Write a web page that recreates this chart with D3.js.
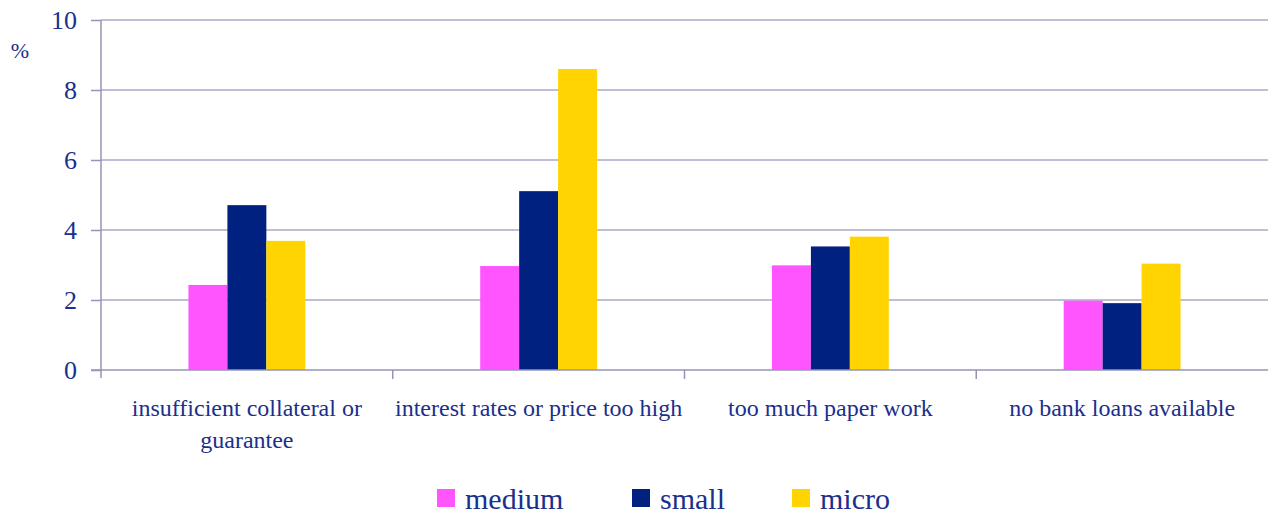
<!DOCTYPE html>
<html>
<head>
<meta charset="utf-8">
<script src="https://cdn.jsdelivr.net/npm/d3@7"></script>
<style>
  body { margin: 0; background: #fff; }
</style>
</head>
<body>
<div id="chart"></div>
<script>
// chart data
var categories = [
    ["insufficient collateral or", "guarantee"],
    ["interest rates or price too high"],
    ["too much paper work"],
    ["no bank loans available"]
];
var series_names = ["medium", "small", "micro"];
var series_colors = ["#ff55ff", "#00217f", "#ffd400"];
var medium_values = [2.43, 2.97, 2.99, 1.98];
var small_values = [4.71, 5.11, 3.53, 1.91];
var micro_values = [3.69, 8.6, 3.81, 3.04];
var y_ticks = [0, 2, 4, 6, 8, 10];

var FONT = "'Liberation Serif', 'Times New Roman', serif";
var TEXT_COLOR = "#1b2f8c";
var width = 1268, height = 516;
var plot = { left: 101, right: 1268, top: 20, bottom: 370 };

var svg = d3.select("#chart").append("svg")
    .attr("width", width)
    .attr("height", height);

var x = d3.scaleBand()
    .domain(d3.range(categories.length))
    .range([plot.left, plot.right]);

var barW = x.bandwidth() * 0.1335;
var x_inner = d3.scaleBand()
    .domain(series_names)
    .range([x.bandwidth() / 2 - barW * 1.5, x.bandwidth() / 2 + barW * 1.5]);

var y = d3.scaleLinear().domain([0, 10]).range([plot.bottom, plot.top]);

// gridlines
svg.append("g").selectAll("line")
    .data(y_ticks.filter(function (t) { return t > 0; }))
    .enter().append("line")
    .attr("x1", plot.left).attr("x2", plot.right)
    .attr("y1", function (d) { return y(d); })
    .attr("y2", function (d) { return y(d); })
    .attr("stroke", "#a9a9c6").attr("stroke-width", 1.5);

// y axis
var yAxis = d3.axisLeft(y).tickValues(y_ticks).tickSize(10).tickPadding(14);
var ya = svg.append("g")
    .attr("transform", "translate(" + plot.left + ",0)")
    .call(yAxis);
ya.select(".domain").attr("stroke", "#9494b8").attr("stroke-width", 1.5)
    .attr("d", "M0," + (plot.bottom + 8) + "V" + plot.top);
ya.selectAll(".tick line").attr("stroke", "#9494b8").attr("stroke-width", 1.5);
ya.selectAll(".tick text")
    .style("font-family", FONT)
    .style("font-size", "26px")
    .attr("dy", "0.34em")
    .attr("fill", TEXT_COLOR);

svg.append("text")
    .attr("x", 20).attr("y", 58)
    .attr("text-anchor", "middle")
    .style("font-family", FONT)
    .style("font-size", "22px")
    .attr("fill", TEXT_COLOR)
    .text("%");

// bars
var all_values = [medium_values, small_values, micro_values];
var groups = svg.append("g").selectAll("g")
    .data(categories)
    .enter().append("g")
    .attr("transform", function (d, i) { return "translate(" + x(i) + ",0)"; });

groups.selectAll("rect")
    .data(function (d, i) {
        return series_names.map(function (s, k) {
            return { name: s, value: all_values[k][i], color: series_colors[k] };
        });
    })
    .enter().append("rect")
    .attr("x", function (d) { return x_inner(d.name); })
    .attr("width", x_inner.bandwidth())
    .attr("y", function (d) { return y(d.value); })
    .attr("height", function (d) { return y(0) - y(d.value); })
    .attr("fill", function (d) { return d.color; });

// x axis line + category ticks
svg.append("line")
    .attr("x1", plot.left - 10).attr("x2", plot.right)
    .attr("y1", plot.bottom).attr("y2", plot.bottom)
    .attr("stroke", "#9494b8").attr("stroke-width", 1.5);
svg.append("g").selectAll("line")
    .data(d3.range(1, categories.length))
    .enter().append("line")
    .attr("x1", function (d) { return x(d); })
    .attr("x2", function (d) { return x(d); })
    .attr("y1", plot.bottom).attr("y2", plot.bottom + 9)
    .attr("stroke", "#9494b8").attr("stroke-width", 1.5);

// category labels
var labels = svg.append("g").selectAll("text")
    .data(categories)
    .enter().append("text")
    .attr("text-anchor", "middle")
    .attr("x", function (d, i) { return x(i) + x.bandwidth() / 2; })
    .attr("y", 416)
    .style("font-family", FONT)
    .style("font-size", "24px")
    .attr("fill", TEXT_COLOR);
labels.selectAll("tspan")
    .data(function (d) { return d; })
    .enter().append("tspan")
    .attr("x", function () { return this.parentNode.getAttribute("x"); })
    .attr("dy", function (d, i) { return i === 0 ? 0 : 32; })
    .text(function (d) { return d; });

// legend
var legend_x = [437, 632, 792];
var lg = svg.append("g").selectAll("g")
    .data(series_names)
    .enter().append("g")
    .attr("transform", function (d, i) { return "translate(" + legend_x[i] + ",489)"; });
lg.append("rect")
    .attr("width", 18).attr("height", 18)
    .attr("fill", function (d, i) { return series_colors[i]; });
lg.append("text")
    .attr("x", 28).attr("y", 20)
    .style("font-family", FONT)
    .style("font-size", "30px")
    .attr("fill", TEXT_COLOR)
    .text(function (d) { return d; });
</script>
</body>
</html>
